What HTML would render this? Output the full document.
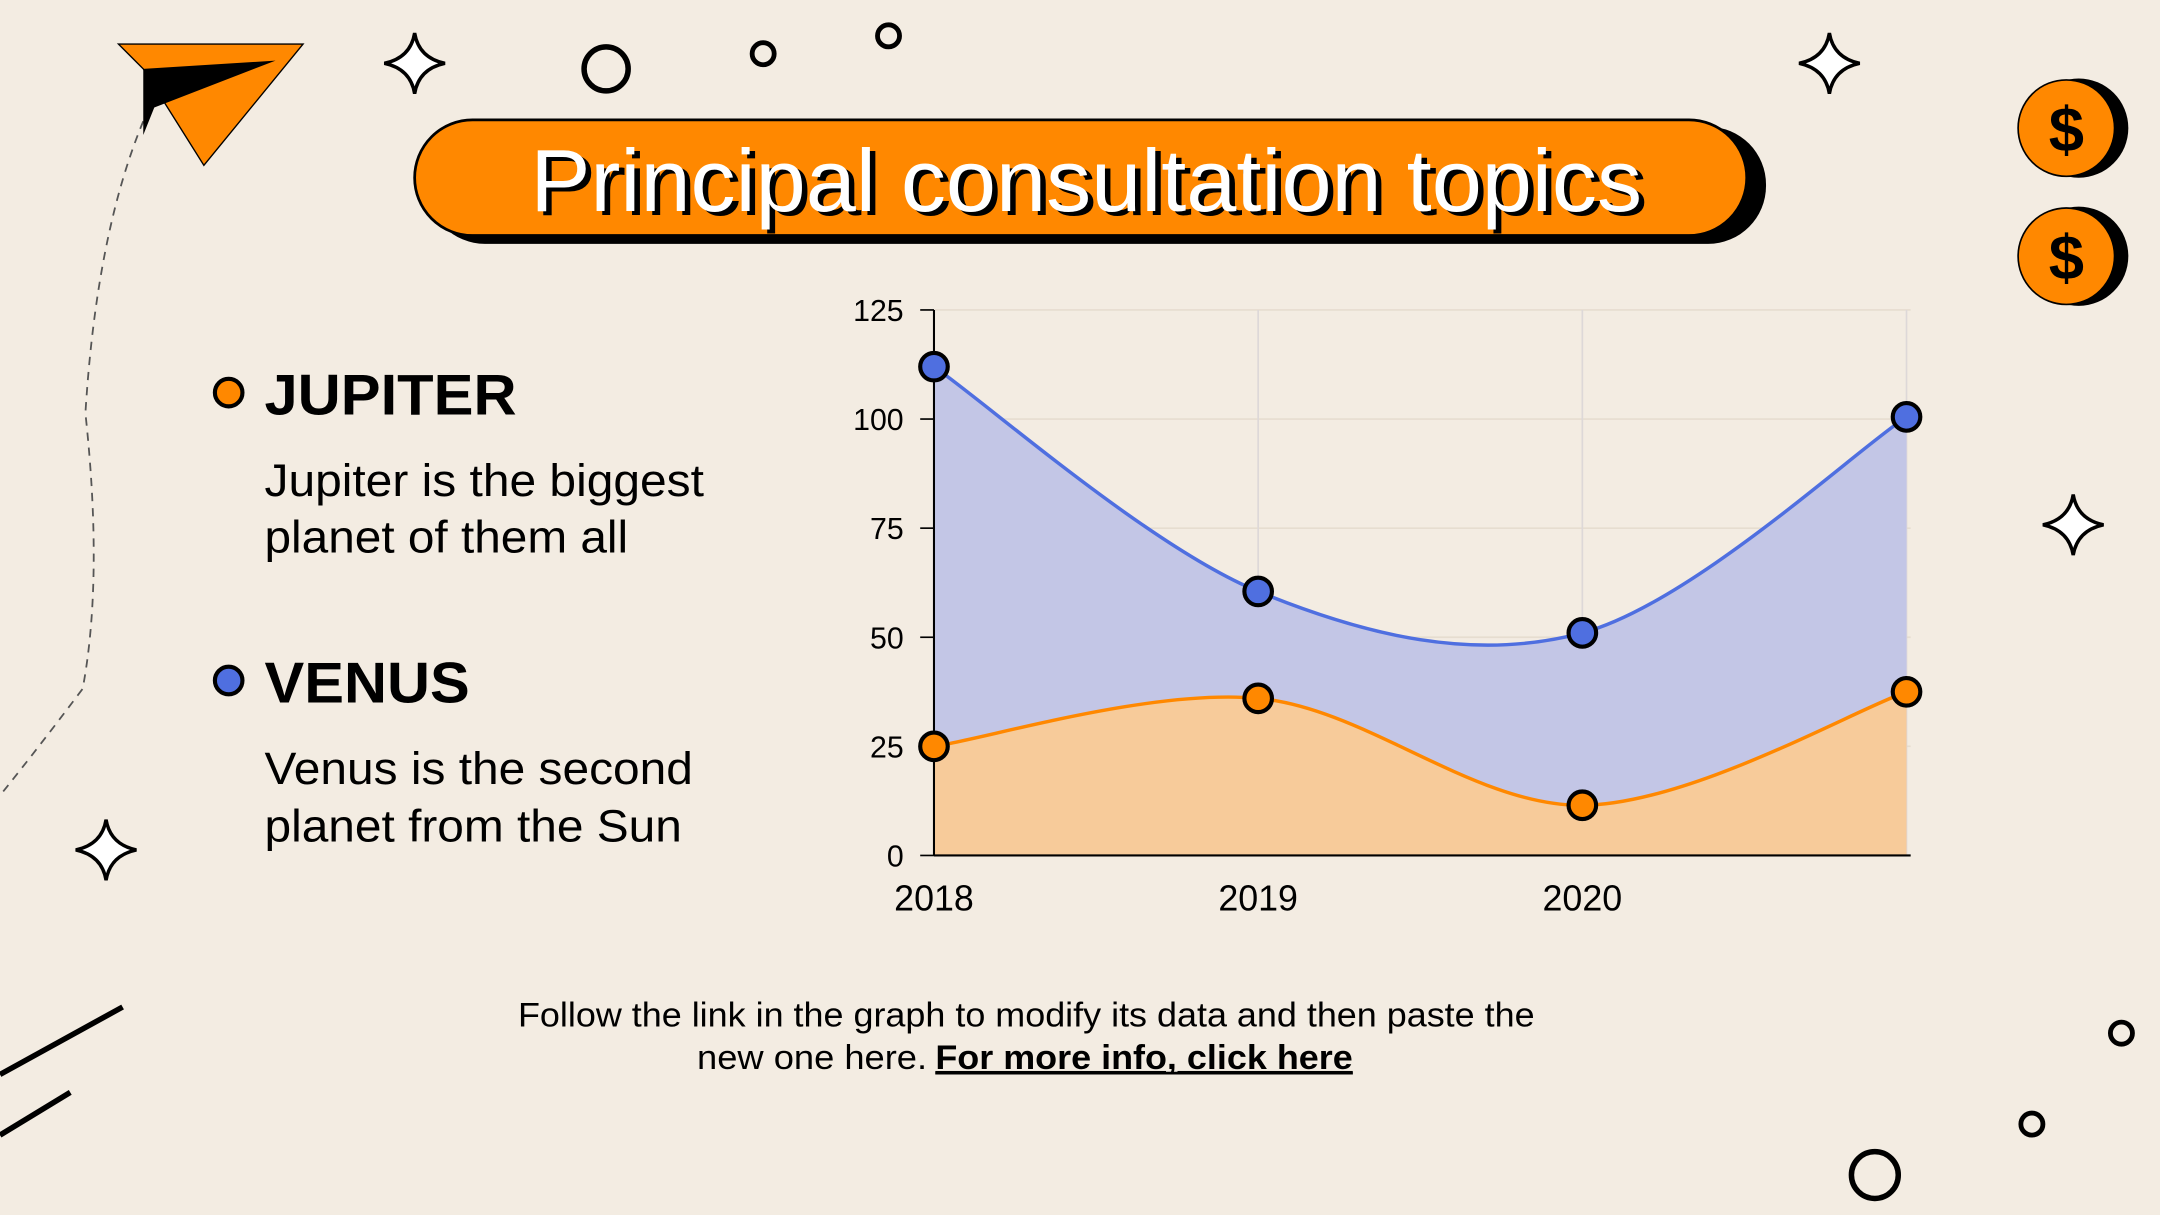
<!DOCTYPE html>
<html><head><meta charset="utf-8"><style>
html,body{margin:0;padding:0;background:#f3ece2;}
svg{display:block;}
text{font-family:"Liberation Sans",sans-serif;}
</style></head><body>
<svg id="s" width="2160" height="1215" viewBox="0 0 1568 882" xmlns="http://www.w3.org/2000/svg">
<rect width="1568" height="882" fill="#f3ece2"/>
<g>
<path d="M104,88 Q70,170 62,300 Q75,420 60,500 Q30,540 2,575" fill="none" stroke="#555" stroke-width="1.3" stroke-dasharray="6,5"/>
<polygon points="86,32 220,32 148,120 104,50" fill="#ff8800" stroke="#000" stroke-width="1"/>
<polygon points="104,50 200,44 112,78 104,98" fill="#000"/>
<g fill="#fff" stroke="#000" stroke-width="2.5">
<path d="M301,24 Q304,42 323,46 Q304,50 301,68 Q298,50 279,46 Q298,42 301,24Z"/>
<path d="M1328,24 Q1331,42 1350,46 Q1331,50 1328,68 Q1325,50 1306,46 Q1325,42 1328,24Z"/>
<path d="M1505,359 Q1508,377 1527,381 Q1508,385 1505,403 Q1502,385 1483,381 Q1502,377 1505,359Z"/>
<path d="M77,595 Q80,613 99,617 Q80,621 77,639 Q74,621 55,617 Q74,613 77,595Z"/>
</g>
<g fill="none" stroke="#000">
<circle cx="440" cy="50" r="16" stroke-width="4"/>
<circle cx="554" cy="39" r="8" stroke-width="3.5"/>
<circle cx="645" cy="26" r="8" stroke-width="3.5"/>
<circle cx="1540" cy="750" r="8" stroke-width="3.5"/>
<circle cx="1475" cy="816" r="8" stroke-width="3.5"/>
<circle cx="1361" cy="853" r="17" stroke-width="4"/>
</g>
<g stroke="#000" stroke-width="4">
<line x1="0" y1="780" x2="89" y2="731"/><line x1="0" y1="824" x2="51" y2="793"/>
</g>
<g><circle cx="1509" cy="93" r="36" fill="#000"/><circle cx="1500" cy="93" r="35" fill="#ff8800" stroke="#000" stroke-width="1.2"/><text x="1500" y="110" font-size="46" font-weight="bold" text-anchor="middle" fill="#000">$</text></g>
<g><circle cx="1509" cy="186" r="36" fill="#000"/><circle cx="1500" cy="186" r="35" fill="#ff8800" stroke="#000" stroke-width="1.2"/><text x="1500" y="203" font-size="46" font-weight="bold" text-anchor="middle" fill="#000">$</text></g>
</g>
<g>
<rect x="310" y="92" width="972" height="85" rx="42" fill="#000"/>
<rect x="301" y="87" width="967" height="84" rx="42" fill="#ff8800" stroke="#000" stroke-width="2"/>
<text x="389" y="156" font-size="64" fill="#000" textLength="807" lengthAdjust="spacingAndGlyphs">Principal consultation topics</text>
<text x="385" y="153" font-size="64" fill="#fff" textLength="807" lengthAdjust="spacingAndGlyphs">Principal consultation topics</text>
</g>
<g>
<circle cx="166" cy="285" r="10" fill="#ff8800" stroke="#000" stroke-width="3"/>
<text x="192" y="301" font-size="42" font-weight="bold" fill="#000" textLength="183" lengthAdjust="spacingAndGlyphs">JUPITER</text>
<text x="192" y="360" font-size="33" fill="#000" textLength="319" lengthAdjust="spacingAndGlyphs">Jupiter is the biggest</text>
<text x="192" y="401" font-size="33" fill="#000" textLength="264" lengthAdjust="spacingAndGlyphs">planet of them all</text>
</g>
<g>
<circle cx="166" cy="494" r="10" fill="#4f6fe0" stroke="#000" stroke-width="3"/>
<text x="192" y="510" font-size="42" font-weight="bold" fill="#000" textLength="149" lengthAdjust="spacingAndGlyphs">VENUS</text>
<text x="192" y="569" font-size="33" fill="#000" textLength="311" lengthAdjust="spacingAndGlyphs">Venus is the second</text>
<text x="192" y="611" font-size="33" fill="#000" textLength="303" lengthAdjust="spacingAndGlyphs">planet from the Sun</text>
</g>
<g id="chart"></g>
<g>
<text x="376" y="745" font-size="25" fill="#000" textLength="738" lengthAdjust="spacingAndGlyphs">Follow the link in the graph to modify its data and then paste the</text>
<text x="506" y="776" font-size="25" fill="#000" textLength="167" lengthAdjust="spacingAndGlyphs">new one here.</text>
<text x="679" y="776" font-size="25" font-weight="bold" text-decoration="underline" fill="#000" textLength="303" lengthAdjust="spacingAndGlyphs">For more info, click here</text>
<line x1="679" y1="779" x2="982" y2="779" stroke="#000" stroke-width="2"/>
</g>
</svg>
<script>
const categories = ["2018","2019","2020",""];
const venusValues = [112, 60.5, 51, 100.5];
const jupiterValues = [25, 36, 11.5, 37.5];
const yTicks = [0,25,50,75,100,125];
const NS="http://www.w3.org/2000/svg";
const g=document.getElementById('chart');
const x0=678,x1=1387,y0=621,y1=225,yMax=125;
const xs=i=>x0+i*(x1-x0-3)/(categories.length-1);
const ys=v=>y0-(v/yMax)*(y0-y1);
function mk(t,a){const e=document.createElementNS(NS,t);for(const k in a)e.setAttribute(k,a[k]);g.appendChild(e);return e;}
yTicks.forEach(t=>{
  const l=mk('line',{x1:x0,x2:x1,y1:ys(t),y2:ys(t),stroke:'#e6ddd0','stroke-width':1.2});
  
  
  const k=mk('line',{x1:x0-10,x2:x0,y1:ys(t),y2:ys(t),stroke:'#000','stroke-width':1.2});
  
  
  const tx=mk('text',{x:656,y:ys(t)+8,'font-size':22,'text-anchor':'end',fill:'#000'});
  tx.textContent=t;
  
  
});
categories.forEach((c,i)=>{
  const l=mk('line',{x1:xs(i),x2:xs(i),y1:y1,y2:y0,stroke:'#ddd8d8','stroke-width':1.2});
  
  
  const tx=mk('text',{x:xs(i),y:661,'font-size':26,'text-anchor':'middle',fill:'#000'});
  tx.textContent=c;
  
  
});
function curve(vals){
  const p=vals.map((v,i)=>[xs(i),ys(v)]);
  let d='M'+p[0][0]+','+p[0][1];
  for(let i=0;i<p.length-1;i++){
    const a=p[Math.max(i-1,0)],b=p[i],c=p[i+1],e=p[Math.min(i+2,p.length-1)];
    d+=' C'+(b[0]+(c[0]-a[0])/6)+','+(b[1]+(c[1]-a[1])/6)+' '+(c[0]-(e[0]-b[0])/6)+','+(c[1]-(e[1]-b[1])/6)+' '+c[0]+','+c[1];
  }
  return d;
}
function series(vals,fill,stroke,name){
  const d=curve(vals);
  const last=xs(vals.length-1);
  const a=mk('path',{d:d+' L'+last+','+y0+' L'+x0+','+y0+'Z',fill:fill});
  
  
  const l=mk('path',{d:d,fill:'none',stroke:stroke,'stroke-width':2.5});
  
  
}
series(venusValues,'#c3c6e6','#4f6fe0','venus');
series(jupiterValues,'#f7cb9a','#ff8800','jupiter');
const ax=mk('line',{x1:x0,x2:x0,y1:y1,y2:y0,stroke:'#000','stroke-width':1.5});


const bx=mk('line',{x1:x0,x2:x1,y1:y0,y2:y0,stroke:'#000','stroke-width':1.5});


function pts(vals,col,name){
  vals.forEach((v,i)=>{
    const c=mk('circle',{cx:xs(i),cy:ys(v),r:10,fill:col,stroke:'#000','stroke-width':3});
    
    
  });
}
pts(venusValues,'#4f6fe0','venus');
pts(jupiterValues,'#ff8800','jupiter');
</script>
</body></html>
